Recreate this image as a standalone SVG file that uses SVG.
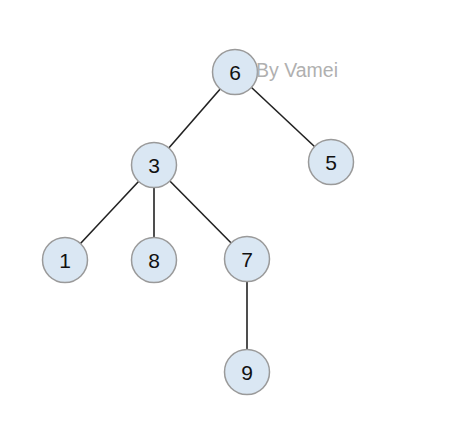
<svg xmlns="http://www.w3.org/2000/svg" width="467" height="425" viewBox="0 0 467 425">
<style>
.n circle{fill:#dae7f3;stroke:#9a9a9a;stroke-width:1.5}
.n text{font-family:"Liberation Sans",Arial,sans-serif;font-size:21px;fill:#111;text-anchor:middle}
.e line{stroke:#222;stroke-width:1.6}
</style>
<rect width="467" height="425" fill="#fff"/>
<g id="connectors" class="e">
<line x1="235" y1="72" x2="154" y2="165"/>
<line x1="235" y1="72" x2="331" y2="162"/>
<line x1="154" y1="165" x2="65" y2="260"/>
<line x1="154" y1="165" x2="154" y2="260"/>
<line x1="154" y1="165" x2="247" y2="259"/>
<line x1="247" y1="259" x2="247" y2="372"/>
</g>
<g id="node6" class="n"><circle cx="235" cy="72" r="22.5"/><text x="235" y="79.5">6</text></g>
<g id="node3" class="n"><circle cx="154" cy="165" r="22.5"/><text x="154" y="172.5">3</text></g>
<g id="node5" class="n"><circle cx="331" cy="162" r="22.5"/><text x="331" y="169.5">5</text></g>
<g id="node1" class="n"><circle cx="65" cy="260" r="22.5"/><text x="65" y="267.5">1</text></g>
<g id="node8" class="n"><circle cx="154" cy="260" r="22.5"/><text x="154" y="267.5">8</text></g>
<g id="node7" class="n"><circle cx="247" cy="259" r="22.5"/><text x="247" y="266.5">7</text></g>
<g id="node9" class="n"><circle cx="247" cy="372" r="22.5"/><text x="247" y="379.5">9</text></g>
<text x="256" y="77" font-family="'Liberation Sans',Arial,sans-serif" font-size="19.5" fill="#b0b0b0">By Vamei</text>
</svg>
